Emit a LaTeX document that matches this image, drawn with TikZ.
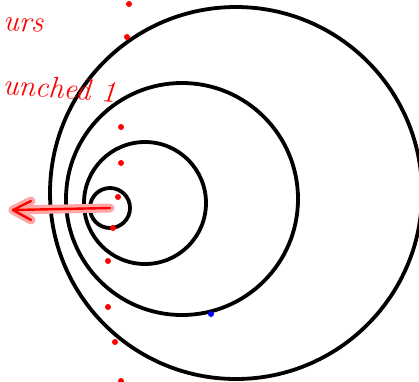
\documentclass[tikz,border=0pt]{standalone}
\usepackage{tikz}
\usetikzlibrary{arrows.meta}

\begin{document}
\begin{tikzpicture}[
    x=1pt, y=-1pt,
    ring/.style = {draw=black, line width=3.8pt},
    dot/.style = {circle, fill=red, inner sep=0pt, minimum size=6pt},
    bluedot/.style = {circle, fill=blue, inner sep=0pt, minimum size=6pt},
    ink/.style = {red, line width=2.4pt, line cap=round, line join=round},
    glow/.style = {red!35, line width=9pt, line cap=round, line join=round},
    note/.style = {text=red, font=\itshape\fontsize{30}{32}\selectfont, inner sep=0pt, anchor=west}
]
    \useasboundingbox (0,0) rectangle (419,381);
    \begin{scope}
    \clip (0,0) rectangle (419,381);

    % rings
    \node[ring, circle, minimum size=372pt, inner sep=0pt] (R4) at (236,193) {};
    \node[ring, circle, minimum size=232pt, inner sep=0pt] (R3) at (182,199) {};
    \node[ring, circle, minimum size=122pt, inner sep=0pt] (R2) at (145,203) {};
    \node[ring, circle, minimum size=40pt, inner sep=0pt] (R1) at (110,208) {};

    % dots
    \node[dot] (d1) at (129,4) {};
    \node[dot] (d2) at (127,37) {};
    \node[dot] (d3) at (121,127) {};
    \node[dot] (d4) at (121,163) {};
    \node[dot] (d5) at (118,197) {};
    \node[dot] (d6) at (113,228) {};
    \node[dot] (d7) at (108,261) {};
    \node[dot] (d8) at (108,307) {};
    \node[dot] (d9) at (115,342) {};
    \node[dot] (d10) at (121,381) {};
    \node[bluedot] (b1) at (211,314) {};

    % arrow
    \coordinate (tip) at (13,210);
    \draw[glow] (R1.center) -- (tip);
    \draw[glow] (tip) -- ++(18,-9) (tip) -- ++(18,10);
    \draw[ink] (R1.center) -- (tip);
    \draw[ink] (tip) -- ++(18,-9) (tip) -- ++(18,10);

    % notes
    \node[note, rotate=-3] (n1) at (3,24) {urs};
    \node[note, rotate=-4] (n2) at (3,84) {unched 1};
    \end{scope}
\end{tikzpicture}
\end{document}
